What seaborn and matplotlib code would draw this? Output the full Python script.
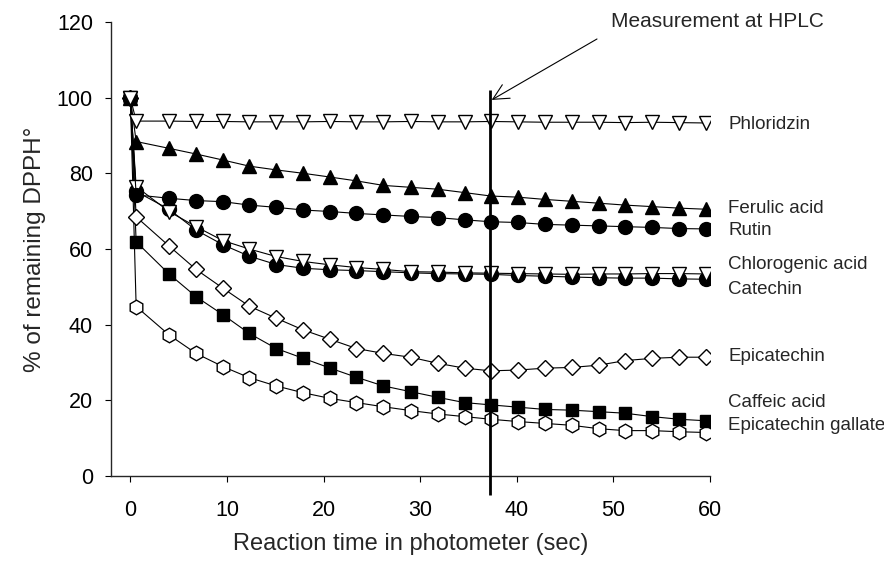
import pandas as pd
import matplotlib.pyplot as plt
import seaborn as sns

sns.set_style("ticks")
plt.rcParams.update({
    'font.family': ['Liberation Sans', 'DejaVu Sans'],
    'axes.linewidth': 1.0,
    'xtick.major.size': 4,
    'ytick.major.size': 4,
    'xtick.labelsize': 15.5,
    'ytick.labelsize': 15.5,
})

# Reaction time (sec) and % of remaining DPPH for each compound
time_s = [0, 0.6, 4.0, 6.8, 9.6, 12.3, 15.1, 17.9, 20.7, 23.4, 26.2, 29.0,
          31.8, 34.6, 37.3, 40.1, 42.9, 45.7, 48.5, 51.2, 54.0, 56.8, 59.6]

phloridzin = [100, 93.8, 93.8, 93.7, 93.7, 93.6, 93.6, 93.6, 93.7, 93.6, 93.6, 93.7,
              93.6, 93.6, 93.7, 93.6, 93.5, 93.5, 93.5, 93.4, 93.5, 93.4, 93.3]
ferulic_acid = [100, 88.4, 86.6, 85.1, 83.5, 81.9, 80.9, 80.0, 79.0, 78.0, 76.8, 76.3,
                75.8, 74.9, 74.0, 73.7, 73.1, 72.6, 72.1, 71.6, 71.2, 70.8, 70.5]
rutin = [100, 74.3, 73.4, 72.8, 72.5, 71.6, 71.0, 70.3, 69.9, 69.4, 69.0, 68.6,
         68.3, 67.7, 67.2, 67.0, 66.5, 66.3, 66.1, 65.9, 65.7, 65.4, 65.3]
chlorogenic_acid = [100, 76.5, 69.9, 65.9, 62.2, 60.0, 58.0, 56.7, 55.8, 55.1, 54.6, 54.0,
                    53.9, 53.7, 53.6, 53.5, 53.4, 53.3, 53.4, 53.4, 53.5, 53.5, 53.4]
catechin = [100, 75.2, 70.5, 65.0, 61.1, 58.1, 55.9, 54.9, 54.5, 54.3, 54.0, 53.7,
            53.5, 53.4, 53.3, 53.0, 52.8, 52.6, 52.4, 52.3, 52.3, 52.1, 52.0]
epicatechin = [100, 68.5, 60.8, 54.6, 49.6, 44.9, 41.7, 38.6, 36.1, 33.7, 32.4, 31.4,
               29.8, 28.5, 27.8, 28.0, 28.5, 28.7, 29.3, 30.5, 31.1, 31.4, 31.4]
caffeic_acid = [100, 61.9, 53.4, 47.4, 42.6, 37.7, 33.7, 31.1, 28.5, 26.1, 23.8, 22.3,
                20.8, 19.4, 18.8, 18.2, 17.6, 17.4, 17.0, 16.6, 15.7, 15.0, 14.6]
epicatechin_gallate = [100, 44.8, 37.3, 32.4, 28.9, 26.0, 23.8, 22.0, 20.5, 19.4, 18.3, 17.3,
                       16.4, 15.7, 15.0, 14.4, 13.9, 13.4, 12.5, 12.0, 12.0, 11.7, 11.5]

hplc_time = 37.2

# name, values, marker, filled, label y position
series = [
    ('Epicatechin gallate', epicatechin_gallate, 'h', False, 13.3),
    ('Caffeic acid', caffeic_acid, 's', True, 19.3),
    ('Epicatechin', epicatechin, 'D', False, 31.5),
    ('Catechin', catechin, 'o', True, 49.3),
    ('Chlorogenic acid', chlorogenic_acid, 'v', False, 55.8),
    ('Rutin', rutin, 'o', True, 64.9),
    ('Ferulic acid', ferulic_acid, '^', True, 70.8),
    ('Phloridzin', phloridzin, 'v', False, 93.0),
]

fig = plt.figure(figsize=(8.84, 5.63), dpi=100)
ax = fig.add_axes([0.1256, 0.1545, 0.6776, 0.8065])

sizes = {'h': 10.5, 's': 9.0, 'D': 7.8, 'o': 10.0, 'v': 10.5, '^': 10.5}
for name, vals, mk, filled, label_y in series:
    df = pd.DataFrame({'time': time_s, 'dpph': vals})
    sns.lineplot(data=df, x='time', y='dpph', ax=ax, color='black', lw=0.8,
                 marker=mk, markersize=sizes[mk], markeredgecolor='black',
                 markeredgewidth=1.0,
                 markerfacecolor='black' if filled else 'white',
                 estimator=None, sort=False)
    ax.text(61.9, label_y, name, fontsize=13.5, va='center', ha='left')

ax.vlines(hplc_time, -5, 102, color='black', lw=2.0, clip_on=False, zorder=5)
ax.text(60.8, 120, 'Measurement at HPLC', fontsize=15, ha='center', va='center')
ax.annotate('', xy=(37.4, 99.4), xytext=(48.3, 115.5), annotation_clip=False,
            arrowprops=dict(arrowstyle='->', lw=0.8, color='black',
                            mutation_scale=28, shrinkA=0, shrinkB=0))

ax.set_xlim(-2, 60)
ax.set_ylim(0, 120)
ax.set_xticks([0, 10, 20, 30, 40, 50, 60])
ax.set_yticks([0, 20, 40, 60, 80, 100, 120])
ax.set_xlabel('Reaction time in photometer (sec)', fontsize=17, labelpad=9)
ax.set_ylabel('% of remaining DPPH°', fontsize=17.5, labelpad=8)
sns.despine(ax=ax)
ax.tick_params(axis='y', direction='out', colors='black', pad=9)
ax.tick_params(axis='x', direction='out', colors='black', pad=13)

fig.savefig('out.png', dpi=100)
